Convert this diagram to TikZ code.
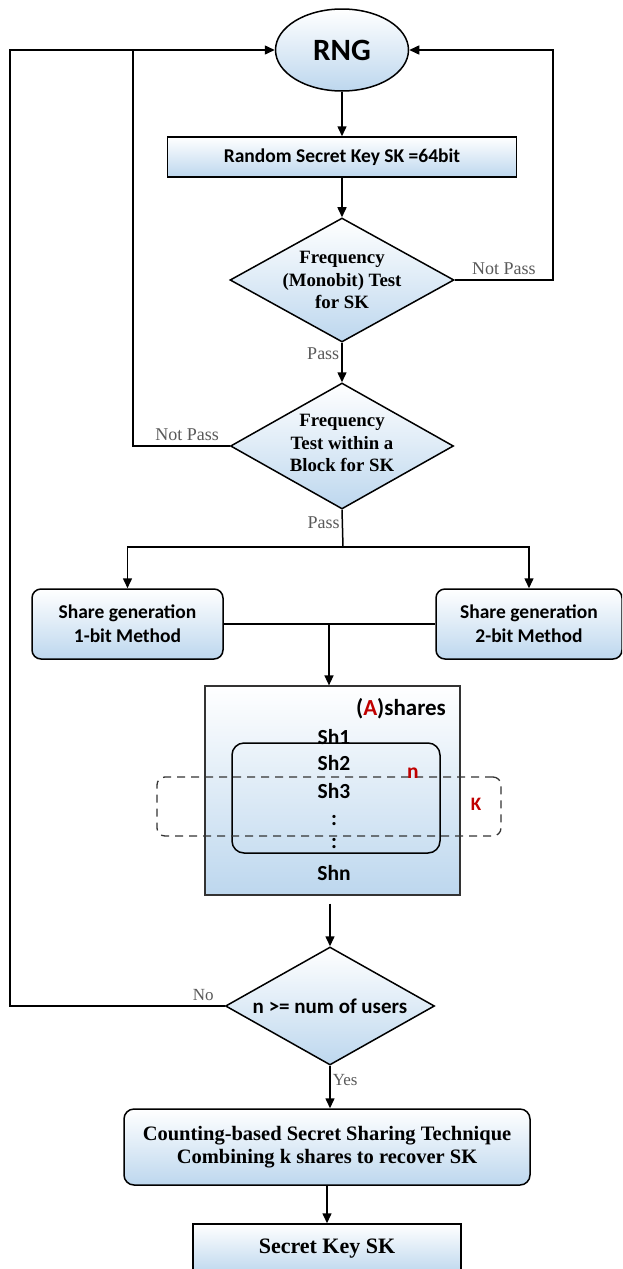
\documentclass[tikz,border=0pt]{standalone}
\usepackage{fontspec}
\setmainfont{Liberation Serif}
\setsansfont{Carlito}
\usepackage{tikz}
\usetikzlibrary{positioning,arrows.meta,shapes.geometric}
\definecolor{flowblue}{RGB}{189,215,238}
\definecolor{flowred}{RGB}{192,0,0}
\tikzset{
  flowshade/.style={top color=white, bottom color=flowblue},
  flowbox/.style={draw, line width=1.5pt, flowshade, inner sep=0pt, align=center},
  flowround/.style={flowbox, rounded corners=9pt},
  flowdia/.style={draw, diamond, line width=1.5pt, flowshade, inner sep=0pt},
  flowarrow/.style={-{Triangle[length=10pt,width=9pt]}, line width=1.5pt},
  flowline/.style={line width=1.5pt},
  flowlabel/.style={font=\fontsize{18}{20}\selectfont, text=black!65, inner sep=2pt},
  calfont/.style={font=\sffamily\bfseries\fontsize{19.5}{24}\selectfont},
  timfont/.style={font=\bfseries\fontsize{18.8}{22.5}\selectfont},
  sharetxt/.style={font=\sffamily\bfseries\fontsize{21.5}{24}\selectfont, inner sep=0pt},
}

\begin{document}
\begin{tikzpicture}[x=1pt, y=-1pt]
  \useasboundingbox (0,0) rectangle (622,1269);
  \clip (0,0) rectangle (622,1269);
  % RNG and key
  \node[flowbox, ellipse, minimum width=133pt, minimum height=82pt,
    font=\sffamily\bfseries\fontsize{31}{34}\selectfont] (rng) at (342,50) {RNG};
  \node[flowbox, minimum width=349pt, minimum height=40pt,
    font=\sffamily\bfseries\fontsize{19.5}{24}\selectfont] (key) at (342,157) {Random Secret Key SK =64bit};
  % tests
  \node[flowdia, minimum width=224pt, minimum height=124pt,
    label={[timfont, align=center]center:{Frequency\\(Monobit) Test\\for SK}}] (test1) at (342,280) {};
  \node[flowdia, minimum width=223pt, minimum height=126pt,
    label={[timfont, align=center, yshift=3pt]center:{Frequency\\Test within a\\Block for SK}}] (test2) at (342,446) {};
  % share generation
  \node[flowround, calfont, minimum width=191pt, minimum height=70pt] (gen1) at (127.5,624) {Share generation\\1-bit Method};
  \node[flowround, calfont, minimum width=186pt, minimum height=70pt] (gen2) at (529,624) {Share generation\\2-bit Method};
  % shares
  \node[flowbox, line width=1.2pt, draw=black!80, minimum width=255pt, minimum height=209pt] (shares) at (332.5,790.5) {};
  \node[draw, line width=1.5pt, rounded corners=12pt, minimum width=208pt, minimum height=110pt] (nset) at (336,798) {};
  \node[draw=black!80, dashed, dash pattern=on 8pt off 6pt, line width=1.3pt, rounded corners=8pt,
    minimum width=344pt, minimum height=59pt] (kset) at (329,806.5) {};
  \node[sharetxt, font=\sffamily\bfseries\fontsize{23}{26}\selectfont] (title) at (401,709) {(\textcolor{flowred}{A})shares};
  \foreach \t/\y in {Sh1/737, Sh2/763, Sh3/791, Shn/873}
    \node[sharetxt] (\t) at (334,\y) {\t};
  \foreach \y in {820, 843}
    \node[sharetxt] at (334,\y) {:};
  \node[sharetxt, text=flowred] (nlab) at (413,773) {n};
  \node[sharetxt, text=flowred, font=\sffamily\bfseries\fontsize{19}{22}\selectfont] (klab) at (476,804) {K};
  % check and recovery
  \node[flowdia, minimum width=209pt, minimum height=118pt,
    label={[font=\sffamily\bfseries\fontsize{21}{24}\selectfont]center:{n >= num of users}}] (test3) at (330,1006) {};
  \node[flowround, rounded corners=10pt, minimum width=406pt, minimum height=76pt,
    font=\bfseries\fontsize{20.5}{23}\selectfont] (combine) at (327,1147) {Counting-based Secret Sharing Technique\\Combining k shares to recover SK};
  \node[flowbox, minimum width=268pt, minimum height=50pt,
    font=\bfseries\fontsize{22}{24}\selectfont] (secret) at (327,1249) {Secret Key SK};
  % connectors
  \coordinate (loopR) at (553,280);
  \coordinate (joinL) at (133,50);
  \coordinate (split) at (343,547);
  \coordinate (merge) at (329,624);
  \coordinate (loopL) at (10,1006);
  \draw[flowarrow] (rng) -- (key);
  \draw[flowarrow] (key) -- (test1);
  \draw[flowarrow] (test1) -- node[flowlabel, pos=0.27, left] {Pass} (test2);
  \draw[flowarrow] (test1.east) -- node[flowlabel, above=3pt] {Not Pass} (loopR) |- (rng.east);
  \draw[flowline] (test2.west) -- node[flowlabel, pos=0.44, above=3pt] {Not Pass} (test2.west -| joinL) -- (joinL);
  \draw[flowline] (test2.south) -- node[flowlabel, pos=0.34, left] {Pass} (split);
  \draw[flowarrow] (split) -| (gen1.north);
  \draw[flowarrow] (split) -| (gen2.north);
  \draw[flowline] (gen1) -- (gen2);
  \draw[flowarrow] (merge) -- (merge |- shares.north);
  \draw[flowarrow, shorten <=8pt] (test3.north |- shares.south) -- (test3.north);
  \draw[flowarrow] (test3.west) -- node[flowlabel, pos=0.1, above=3pt, font=\fontsize{17}{20}\selectfont] {No} (loopL) |- (rng.west);
  \draw[flowarrow] (test3.south) -- node[flowlabel, pos=0.34, right, font=\fontsize{17}{20}\selectfont] {Yes} (test3.south |- combine.north);
  \draw[flowarrow] (combine) -- (secret);
\end{tikzpicture}
\end{document}
